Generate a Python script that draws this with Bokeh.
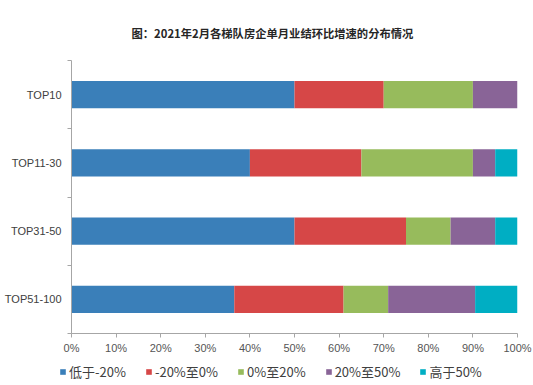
from bokeh.plotting import figure
from bokeh.layouts import column
from bokeh.models import ColumnDataSource, Range1d, FixedTicker, PrintfTickFormatter
from bokeh.embed import file_html
from bokeh.resources import INLINE

# ---- data ----
categories = ["TOP10", "TOP11-30", "TOP31-50", "TOP51-100"]
series_names = ["低于-20%", "-20%至0%", "0%至20%", "20%至50%", "高于50%"]
below_m20 = [50, 40, 50, 36.5]
m20_to_0 = [20, 25, 25, 24.5]
p0_to_20 = [20, 25, 10, 10]
p20_to_50 = [10, 5, 10, 19.5]
above_50 = [0, 5, 5, 9.5]
x_ticks = [0, 10, 20, 30, 40, 50, 60, 70, 80, 90, 100]
title_text = "图：2021年2月各梯队房企单月业结环比增速的分布情况"

colors = ["#3A7FB9", "#D64747", "#97BB5C", "#896497", "#00AEC3"]

n = len(categories)
ypos = [n - i - 0.5 for i in range(n)]
keys = ["s0", "s1", "s2", "s3", "s4"]
source = ColumnDataSource(dict(y=ypos, s0=below_m20, s1=m20_to_0, s2=p0_to_20,
                               s3=p20_to_50, s4=above_50))

p = figure(frame_width=446, frame_height=273, x_range=Range1d(0, 100), y_range=Range1d(0, n),
           output_backend="svg", toolbar_location=None,
           min_border_left=71, min_border_right=16, min_border_top=60, min_border_bottom=25)

p.hbar_stack(keys, y="y", height=0.4, color=colors, line_color=None, source=source)

# title
p.title.text = title_text
p.title.align = "left"
p.title.offset = 60
p.title.text_font = "Noto Sans CJK SC"
p.title.text_font_size = "11.3px"
p.title.text_font_style = "bold"
p.title.text_color = "#262626"
p.title.standoff = 40

# axes
p.xgrid.visible = False
p.ygrid.visible = False
p.outline_line_color = None

xa = p.xaxis[0]
xa.ticker = FixedTicker(ticks=x_ticks, minor_ticks=[])
xa.formatter = PrintfTickFormatter(format="%d%%")
xa.axis_line_color = "#A6A6A6"
xa.major_tick_line_color = "#A6A6A6"
xa.major_tick_out = 4
xa.major_tick_in = 0
xa.minor_tick_line_color = None
xa.major_label_text_font = "Liberation Sans"
xa.major_label_text_font_size = "11px"
xa.major_label_text_color = "#555555"
xa.major_label_standoff = 4

ya = p.yaxis[0]
ya.ticker = FixedTicker(ticks=ypos, minor_ticks=list(range(n + 1)))
ya.major_label_overrides = {float(y): c for y, c in zip(ypos, categories)}
ya.axis_line_color = "#A6A6A6"
ya.major_tick_line_color = None
ya.major_tick_out = 0
ya.major_tick_in = 0
ya.minor_tick_line_color = "#A6A6A6"
ya.minor_tick_out = 4
ya.minor_tick_in = 0
ya.major_label_text_font = "Liberation Sans"
ya.major_label_text_font_size = "11px"
ya.major_label_text_color = "#404040"
ya.major_label_standoff = 6

# legend strip: a small figure holding the legend; its stacked renderers share the
# data source but are hidden, so only the legend shows
lfig = figure(width=533, height=27, x_range=Range1d(0, 100), y_range=Range1d(0, n),
              output_backend="svg", toolbar_location=None,
              x_axis_location=None, y_axis_location=None, min_border=0)
lfig.frame_align = False
lfig.xgrid.visible = False
lfig.ygrid.visible = False
lfig.outline_line_color = None
lrs = lfig.hbar_stack(keys, y="y", height=0.4, color=colors, line_color=None,
                      source=source, legend_label=series_names)
for r in lrs:
    r.visible = False

lg = lfig.legend[0]
lg.click_policy = "none"
lg.orientation = "horizontal"
lg.location = (59, 4)
lg.glyph_width = 7
lg.glyph_height = 7
lg.label_standoff = 3
lg.spacing = 19
lg.padding = 0
lg.margin = 0
lg.border_line_color = None
lg.background_fill_alpha = 0
lg.label_text_font = "Noto Sans CJK SC"
lg.label_text_font_size = "13px"
lg.label_text_color = "#404040"
lg.label_height = 16

layout = column(p, lfig, spacing=0)
open("out.html", "w").write(file_html(layout, INLINE))
